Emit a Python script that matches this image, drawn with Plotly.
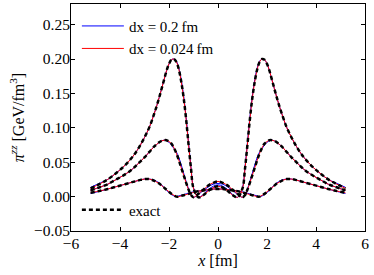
import plotly.graph_objects as go

# x grid (fm)
x = [-5.2, -4.8, -4.5, -4.2, -3.9, -3.6, -3.4, -3.2, -3.0, -2.8, -2.6, -2.5, -2.4, -2.3, -2.2, -2.1,
     -2.0, -1.9, -1.8, -1.7, -1.6, -1.5, -1.4, -1.3, -1.2, -1.1, -1.0, -0.8, -0.6, -0.4, -0.2,
     0.0,
     0.2, 0.4, 0.6, 0.8, 1.0, 1.1, 1.2, 1.3, 1.4, 1.5, 1.6, 1.7, 1.8, 1.9, 2.0,
     2.1, 2.2, 2.3, 2.4, 2.5, 2.6, 2.8, 3.0, 3.2, 3.4, 3.6, 3.9, 4.2, 4.5, 4.8, 5.2]

# exact (and dx = 0.024 fm) curves
tall = [0.012, 0.019, 0.025, 0.033, 0.042, 0.053, 0.062, 0.073, 0.086, 0.101, 0.121, 0.132, 0.144, 0.157, 0.170, 0.183,
        0.193, 0.199, 0.200, 0.196, 0.185, 0.167, 0.143, 0.112, 0.075, 0.040, 0.012, -0.001, 0.002, 0.008, 0.013,
        0.015,
        0.013, 0.008, 0.002, -0.001, 0.012, 0.040, 0.075, 0.112, 0.143, 0.167, 0.185, 0.196, 0.200, 0.199, 0.193,
        0.183, 0.170, 0.157, 0.144, 0.132, 0.121, 0.101, 0.086, 0.073, 0.062, 0.053, 0.042, 0.033, 0.025, 0.019, 0.012]

medium = [0.009, 0.014, 0.018, 0.024, 0.030, 0.037, 0.043, 0.050, 0.057, 0.065, 0.073, 0.076, 0.079, 0.081, 0.082, 0.082,
          0.080, 0.077, 0.071, 0.063, 0.053, 0.042, 0.031, 0.020, 0.010, 0.002, -0.001, 0.004, 0.010, 0.016, 0.020,
          0.022,
          0.020, 0.016, 0.010, 0.004, -0.001, 0.002, 0.010, 0.020, 0.031, 0.042, 0.053, 0.063, 0.071, 0.077, 0.080,
          0.082, 0.082, 0.081, 0.079, 0.076, 0.073, 0.065, 0.057, 0.050, 0.043, 0.037, 0.030, 0.024, 0.018, 0.014, 0.009]

small = [0.0055, 0.0085, 0.011, 0.014, 0.017, 0.020, 0.022, 0.024, 0.0255, 0.0255, 0.023, 0.021, 0.019, 0.016, 0.013, 0.010,
         0.007, 0.004, 0.002, 0.000, 0.000, 0.001, 0.002, 0.003, 0.004, 0.005, 0.006, 0.008, 0.009, 0.010, 0.011,
         0.011,
         0.011, 0.010, 0.009, 0.008, 0.006, 0.005, 0.004, 0.003, 0.002, 0.001, 0.000, 0.000, 0.002, 0.004, 0.007,
         0.010, 0.013, 0.016, 0.019, 0.021, 0.023, 0.0255, 0.0255, 0.024, 0.022, 0.020, 0.017, 0.014, 0.011, 0.0085, 0.0055]

# dx = 0.2 fm curves (slight deviations)
tall_b = [0.0135, 0.020, 0.025, 0.033, 0.042, 0.053, 0.062, 0.073, 0.086, 0.101, 0.121, 0.132, 0.144, 0.157, 0.170, 0.183,
          0.193, 0.199, 0.200, 0.197, 0.187, 0.170, 0.146, 0.115, 0.078, 0.042, 0.013, -0.001, 0.003, 0.010, 0.015,
          0.017,
          0.015, 0.010, 0.003, -0.001, 0.013, 0.042, 0.078, 0.115, 0.146, 0.170, 0.187, 0.197, 0.200, 0.199, 0.193,
          0.183, 0.170, 0.157, 0.144, 0.132, 0.121, 0.101, 0.086, 0.073, 0.062, 0.053, 0.042, 0.033, 0.025, 0.020, 0.0135]

medium_b = [0.009, 0.014, 0.018, 0.024, 0.030, 0.037, 0.043, 0.050, 0.057, 0.065, 0.073, 0.076, 0.079, 0.081, 0.082, 0.081,
            0.079, 0.075, 0.070, 0.065, 0.057, 0.046, 0.034, 0.022, 0.011, 0.003, -0.001, 0.003, 0.009, 0.014, 0.018,
            0.019,
            0.018, 0.014, 0.009, 0.003, -0.001, 0.003, 0.011, 0.022, 0.034, 0.046, 0.057, 0.065, 0.070, 0.075, 0.079,
            0.081, 0.082, 0.081, 0.079, 0.076, 0.073, 0.065, 0.057, 0.050, 0.043, 0.037, 0.030, 0.024, 0.018, 0.014, 0.009]

small_b = [0.0045, 0.008, 0.011, 0.014, 0.017, 0.020, 0.022, 0.024, 0.0255, 0.0255, 0.024, 0.022, 0.020, 0.017, 0.013, 0.009,
           0.006, 0.003, 0.001, 0.000, 0.001, 0.002, 0.003, 0.004, 0.005, 0.006, 0.007, 0.008, 0.009, 0.010, 0.011,
           0.011,
           0.011, 0.010, 0.009, 0.008, 0.007, 0.006, 0.005, 0.004, 0.003, 0.002, 0.001, 0.000, 0.001, 0.003, 0.006,
           0.009, 0.013, 0.017, 0.020, 0.022, 0.024, 0.0255, 0.0255, 0.024, 0.022, 0.020, 0.017, 0.014, 0.011, 0.008, 0.0045]

x_ticks = [-6, -4, -2, 0, 2, 4, 6]
x_labels = ["\u22126", "\u22124", "\u22122", "0", "2", "4", "6"]
y_ticks = [-0.05, 0.0, 0.05, 0.10, 0.15, 0.20, 0.25]
y_labels = ["\u22120.05", "0.00", "0.05", "0.10", "0.15", "0.20", "0.25"]

FONT = "Liberation Serif, DejaVu Serif, serif"
fig = go.Figure()

for i, yb in enumerate([tall_b, medium_b, small_b]):
    fig.add_trace(go.Scatter(x=x, y=yb, mode="lines", line=dict(color="#0000ff", width=1, shape="spline"),
                             name="dx = 0.2\u2009fm", showlegend=(i == 0), legend="legend"))
for i, yr in enumerate([tall, medium, small]):
    fig.add_trace(go.Scatter(x=x, y=yr, mode="lines", line=dict(color="#ff0000", width=1, shape="spline"),
                             name="dx = 0.024\u2009fm", showlegend=(i == 0), legend="legend"))
for i, ye in enumerate([tall, medium, small]):
    fig.add_trace(go.Scatter(x=x, y=ye, mode="lines", line=dict(color="black", width=2.5, dash="4px,3px", shape="spline"),
                             name="exact", showlegend=(i == 0), legend="legend2"))

axis_common = dict(showgrid=False, zeroline=False, showline=True, linecolor="black", linewidth=1,
                   mirror="ticks", ticks="inside", ticklen=4, tickcolor="black",
                   tickfont=dict(family=FONT, size=15.5, color="black"))

fig.update_layout(
    width=374, height=275,
    margin=dict(l=71, r=9, t=4, b=44),
    paper_bgcolor="white", plot_bgcolor="white",
    font=dict(family=FONT, size=15, color="black"),
    xaxis=dict(range=[-6, 6], tickvals=x_ticks, ticktext=x_labels, ticklabelstandoff=-2,
               title=dict(text="<i>x</i> [fm]", font=dict(family=FONT, size=16), standoff=0), **axis_common),
    yaxis=dict(range=[-0.05, 0.28], tickvals=y_ticks, ticktext=y_labels, ticklabelstandoff=-3,
               title=dict(text="<i>\u03c0</i><sup><i>zz</i></sup> [GeV/fm<sup>3</sup>]", font=dict(family=FONT, size=16), standoff=5),
               **axis_common),
    legend=dict(x=0.02, y=0.975, xanchor="left", yanchor="top", bgcolor="rgba(0,0,0,0)",
                font=dict(family=FONT, size=15), tracegroupgap=0, itemwidth=42),
    legend2=dict(x=0.02, y=0.02, xanchor="left", yanchor="bottom", bgcolor="rgba(0,0,0,0)",
                 font=dict(family=FONT, size=15), itemwidth=42),
)

fig.write_html("out.html", config={"displayModeBar": False},
               post_script="document.body.style.margin='0';")
